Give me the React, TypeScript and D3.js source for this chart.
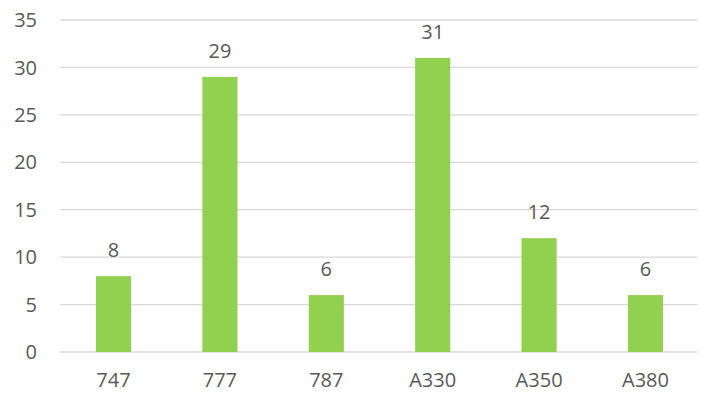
import React from "react";
import * as d3 from "d3";

const categories = ["747", "777", "787", "A330", "A350", "A380"];
const values = [8, 29, 6, 31, 12, 6];
const yTicks = [0, 5, 10, 15, 20, 25, 30, 35];

export default function App() {
  const W = 701, H = 394;
  const left = 60.3, right = 698.7, top = 20, bottom = 352;
  const x = d3.scaleBand<string>().domain(categories).range([left, right]).paddingInner(0.67).paddingOuter(0.335);
  const y = d3.scaleLinear().domain([0, 35]).range([bottom, top]);
  const font = "'Open Sans', 'Liberation Sans', sans-serif";
  const col = "#595959";
  const fs = 20;
  return (
    <svg width={W} height={H} style={{ position: "absolute", left: 0, top: 0, background: "#fff" }}>
      {yTicks.map((t) => (
        <g key={t}>
          <line x1={left} x2={right - 1.5} y1={y(t)} y2={y(t)} stroke="#d9d9d9" strokeWidth={1.3} />
          <text x={37} y={y(t)} dy="0.36em" textAnchor="end" fontFamily={font} fontSize={fs} fill={col}>{t}</text>
        </g>
      ))}
      {categories.map((c, i) => (
        <g key={c}>
          <rect x={x(c)} y={y(values[i])} width={x.bandwidth()} height={bottom - y(values[i])} fill="#92d050" />
          <text x={x(c)! + x.bandwidth() / 2} y={y(values[i]) - 19} textAnchor="middle" fontFamily={font} fontSize={fs} fill={col}>{values[i]}</text>
          <text x={x(c)! + x.bandwidth() / 2} y={387} textAnchor="middle" fontFamily={font} fontSize={fs} fill={col}>{c}</text>
        </g>
      ))}
    </svg>
  );
}
